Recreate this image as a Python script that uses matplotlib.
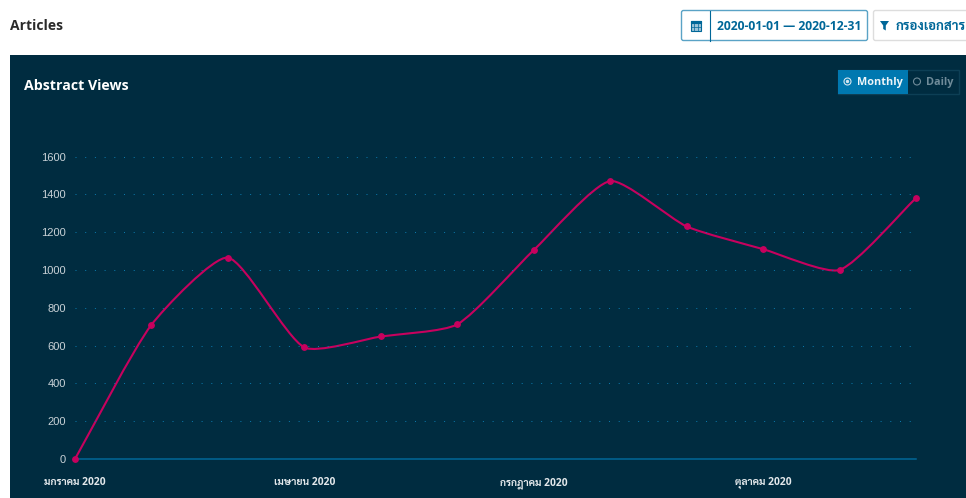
import matplotlib
matplotlib.use('Agg')
import matplotlib.pyplot as plt
from matplotlib.patches import Rectangle, FancyBboxPatch, Circle, PathPatch, Polygon
from matplotlib.path import Path
import numpy as np

plt.rcParams['font.family'] = ['Open Sans', 'Sarabun', 'Noto Sans Thai', 'DejaVu Sans']

months = list(range(12))
views = [0, 710, 1065, 590, 648, 712, 1105, 1470, 1230, 1110, 1000, 1380]
y_ticks = [0, 200, 400, 600, 800, 1000, 1200, 1400, 1600]
x_ticks = [0, 3, 6, 9]
x_labels = ['มกราคม 2020', 'เมษายน 2020', 'กรกฎาคม 2020', 'ตุลาคม 2020']

W, H = 966, 498
NAVY = '#002c40'
BLUE = '#006798'
PINK = '#c7015e'

fig = plt.figure(figsize=(W / 100, H / 100), dpi=100, facecolor='white')

# page chrome, in pixel coords
bg = fig.add_axes([0, 0, 1, 1])
bg.set_xlim(0, W)
bg.set_ylim(H, 0)
bg.axis('off')
bg.add_patch(Rectangle((10, 55), W - 10, H - 55, fc=NAVY, ec='none'))
bg.text(10, 25.5, 'Articles', fontsize=10, fontweight='bold', color='#2b2b2b', va='center')
bg.text(24, 85.5, 'Abstract Views', fontsize=10.2, fontweight='bold', color='white', va='center')

# date range button
bg.add_patch(FancyBboxPatch((681.5, 10.5), 186, 30, boxstyle='round,pad=0,rounding_size=2', fc='white', ec='#5aa3c6', lw=1))
bg.plot([709.5, 709.5], [10.5, 40.5], color=BLUE, lw=0.8)
bg.add_patch(Rectangle((690.5, 20.5), 10.5, 10.5, fc='#9cc3d8', ec=BLUE, lw=0.8))
bg.add_patch(Rectangle((690.5, 20.5), 10.5, 2.5, fc=BLUE, ec=BLUE, lw=0.8))
bg.plot([694.2, 694.2], [23, 31], color=BLUE, lw=0.5)
bg.plot([697.6, 697.6], [23, 31], color=BLUE, lw=0.5)
bg.plot([690.5, 701], [26.5, 26.5], color=BLUE, lw=0.5)
bg.text(789, 26.5, '2020-01-01 — 2020-12-31', fontsize=8.7, fontweight='bold', color=BLUE, ha='center', va='center')

# filter button
bg.add_patch(FancyBboxPatch((873.5, 10.5), 110, 30, boxstyle='round,pad=0,rounding_size=2', fc='white', ec='#dddddd', lw=1))
bg.add_patch(Polygon([(880, 21), (889, 21), (885.8, 25.5), (885.8, 30.5), (883.2, 29), (883.2, 25.5)], fc=BLUE, ec='none'))
bg.text(896, 26, 'กรองเอกสาร', fontsize=9.5, fontweight='bold', color=BLUE, va='center', clip_on=True)

# monthly / daily toggle
bg.add_patch(Rectangle((838, 70), 120.5, 23.5, fc='none', ec='#0d3f55', lw=1))
bg.add_patch(Rectangle((838, 70), 70, 23.5, fc='#0078b0', ec='none'))
bg.add_patch(Circle((847.5, 81.5), 3.5, fc='none', ec='#d5e6ef', lw=0.8))
bg.add_patch(Circle((847.5, 81.5), 1.7, fc='#d5e6ef', ec='none'))
bg.text(857, 82.5, 'Monthly', fontsize=7.8, fontweight='bold', color='#eef5f9', va='center')
bg.add_patch(Circle((917, 81.5), 3.5, fc='none', ec='#6f8b99', lw=0.8))
bg.text(926, 82.5, 'Daily', fontsize=7.8, fontweight='bold', color='#6f8b99', va='center')

# chart
left, right, top, bottom = 75, 916, 156.5, 459
ax = fig.add_axes([left / W, 1 - bottom / H, (right - left) / W, (bottom - top) / H])
ax.patch.set_alpha(0)
ax.set_xlim(0, 11)
ax.set_ylim(0, 1600)
for s in ax.spines.values():
    s.set_visible(False)
ax.hlines(y_ticks[1:], 0, 10.93, color='#0b78aa', lw=0.72, ls=(0, (1, 8.7)), clip_on=False)
ax.axhline(0, color=BLUE, lw=1.1, clip_on=False)

ax.set_yticks(y_ticks)
ax.set_yticklabels([str(v) for v in y_ticks], family='Liberation Sans', fontsize=8, color='#c9d2d7')
ax.set_xticks(x_ticks)
ax.set_xticklabels(x_labels, fontsize=7.4, fontweight='bold', color='#e3e8eb', va='baseline')
ax.tick_params(axis='both', length=0)
ax.tick_params(axis='y', pad=6.5)
ax.tick_params(axis='x', pad=19)

# bezier through the values, chart.js style spline
sx = (right - left) / 11
sy = (bottom - top) / 1600
t = 0.2
n = len(views)
verts = [(months[0], views[0])]
codes = [Path.MOVETO]
ctrl = []
for i in range(n):
    p = (months[max(i - 1, 0)], views[max(i - 1, 0)])
    c = (months[i], views[i])
    f = (months[min(i + 1, n - 1)], views[min(i + 1, n - 1)])
    d01 = np.hypot((c[0] - p[0]) * sx, (c[1] - p[1]) * sy)
    d12 = np.hypot((f[0] - c[0]) * sx, (f[1] - c[1]) * sy)
    s01 = d01 / (d01 + d12)
    s12 = d12 / (d01 + d12)
    before = (c[0] - t * s01 * (f[0] - p[0]), c[1] - t * s01 * (f[1] - p[1]))
    after = (c[0] + t * s12 * (f[0] - p[0]), c[1] + t * s12 * (f[1] - p[1]))
    ctrl.append((before, after))
for i in range(1, n):
    verts += [ctrl[i - 1][1], ctrl[i][0], (months[i], views[i])]
    codes += [Path.CURVE4, Path.CURVE4, Path.CURVE4]
ax.add_patch(PathPatch(Path(verts, codes), fc='none', ec=PINK, lw=1.5, clip_on=False))
ax.plot(months, views, ls='none', marker='o', ms=3.9, color=PINK, clip_on=False)

fig.savefig('out.png', dpi=100, facecolor='white')
